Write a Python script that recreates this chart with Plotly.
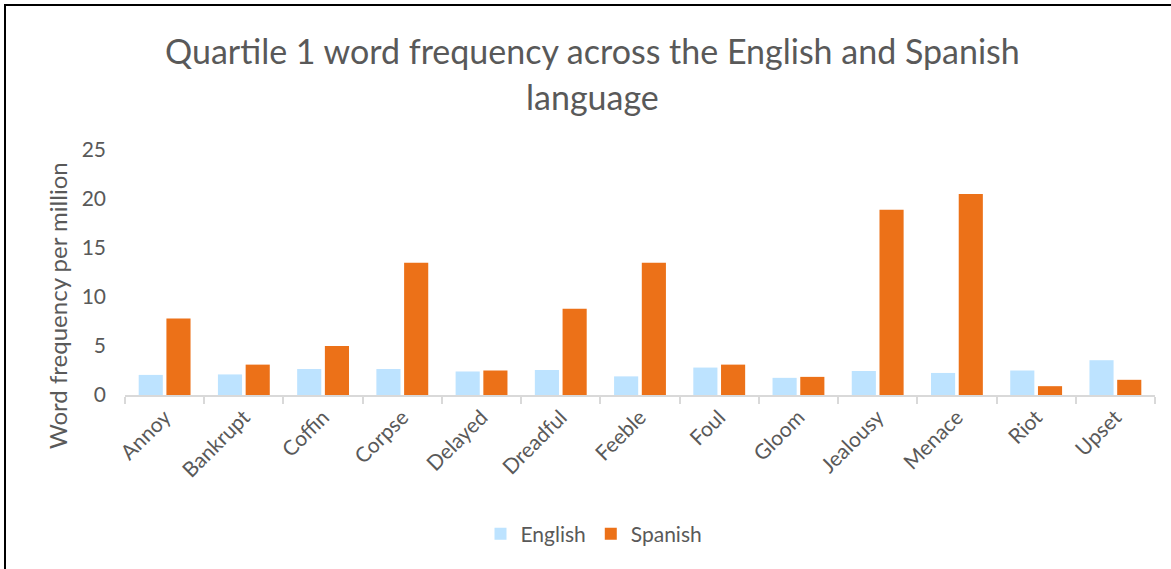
import plotly.graph_objects as go

categories = ["Annoy", "Bankrupt", "Coffin", "Corpse", "Delayed", "Dreadful", "Feeble",
              "Foul", "Gloom", "Jealousy", "Menace", "Riot", "Upset"]
english = [2.05, 2.1, 2.65, 2.65, 2.4, 2.55, 1.9, 2.8, 1.75, 2.45, 2.25, 2.5, 3.55]
spanish = [7.8, 3.1, 5.0, 13.5, 2.5, 8.8, 13.5, 3.1, 1.85, 18.9, 20.5, 0.9, 1.55]
y_ticks = [0, 5, 10, 15, 20, 25]

W, H = 1171, 569
L, R, T, B = 125, 16, 150, 174
pw, ph = W - L - R, H - T - B

def px(x):
    return (x - L) / pw

def py(y):
    return (H - B - y) / ph

FONT = "Lato"
GREY = "#595959"

fig = go.Figure()
fig.add_bar(x=categories, y=english, name="English", marker_color="#BDE3FF",
            marker_line=dict(color="#FFFFFF", width=0))
fig.add_bar(x=categories, y=spanish, name="Spanish", marker_color="#EC7118",
            marker_line=dict(color="#FFFFFF", width=0))

fig.update_layout(
    width=W, height=H,
    margin=dict(l=L, r=R, t=T, b=B),
    paper_bgcolor="white", plot_bgcolor="white",
    barmode="group", bargap=0.30, bargroupgap=0.13,
    font=dict(family=FONT, color=GREY),
    showlegend=True,
    legend=dict(orientation="h", x=px(594), xanchor="center", y=py(534), yanchor="middle",
                font=dict(size=21, color=GREY), itemwidth=30, traceorder="normal"),
    xaxis=dict(type="category", showgrid=False, showline=True, linecolor="#D9D9D9",
               linewidth=1.5, ticks="outside", tickson="boundaries", ticklen=7,
               tickcolor="#D9D9D9", tickwidth=1.5, tickangle=-45,
               tickfont=dict(size=21, color=GREY)),
    yaxis=dict(range=[0, 25], tickvals=y_ticks, showgrid=False, showline=False,
               zeroline=False, ticks="", ticklabelstandoff=18,
               tickfont=dict(size=21, color=GREY)),
    annotations=[
        dict(text="Quartile 1 word frequency across the English and Spanish", xref="paper", yref="paper",
             x=px(592), y=py(50), xanchor="center", yanchor="middle", showarrow=False,
             font=dict(size=34, color=GREY, family=FONT)),
        dict(text="language", xref="paper", yref="paper",
             x=px(592), y=py(96), xanchor="center", yanchor="middle", showarrow=False,
             font=dict(size=34, color=GREY, family=FONT)),
        dict(text="Word frequency per million", xref="paper", yref="paper",
             x=px(57), y=py(306), xanchor="center", yanchor="middle", showarrow=False,
             textangle=-90, font=dict(size=24, color=GREY, family=FONT)),
    ],
    shapes=[
        dict(type="rect", xref="paper", yref="paper", x0=px(5), x1=px(1180), y0=py(580), y1=py(5),
             line=dict(color="black", width=2), fillcolor="rgba(0,0,0,0)", layer="above"),
    ],
)

fig.write_html("out.html")
